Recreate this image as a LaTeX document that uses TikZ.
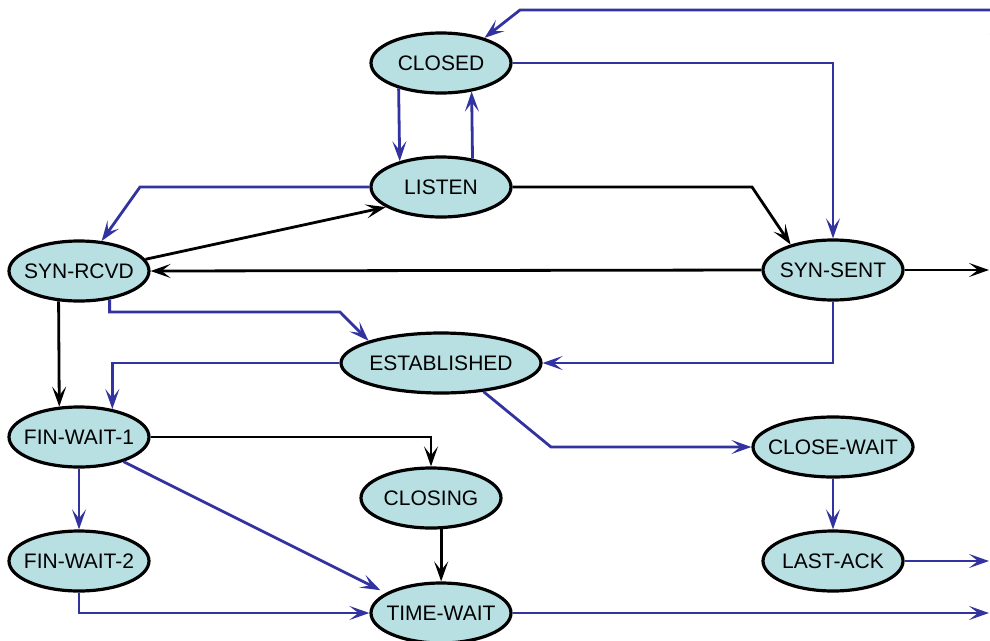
\documentclass[tikz,border=0pt]{standalone}
\usepackage{fontspec}
\setmainfont{Liberation Sans}
\usetikzlibrary{arrows.meta,shapes.geometric}
\definecolor{statefill}{RGB}{184,224,227}
\definecolor{flowblue}{RGB}{51,51,160}
\begin{document}
\begin{tikzpicture}[x=1pt,y=-1pt,
  state/.style={ellipse,draw=black,line width=3.2pt,fill=statefill,
    minimum width=140pt,minimum height=60pt,inner sep=0pt,
    font=\fontsize{21}{24}\selectfont},
  flow/.style={line width=2.8pt,
    -{Stealth[length=20pt,width=14pt,inset=9pt,line width=2.4pt]}},
  okpath/.style={flow,draw=flowblue},
  ctlpath/.style={flow,draw=black}]
\useasboundingbox (0,0) rectangle (990,640);
\clip (0,0) rectangle (990,640);
\fill[white] (0,0) rectangle (990,640);

% TCP states
\node[state] (closed)      at (441,63)  {\makebox[0pt]{CLOSED}};
\node[state] (listen)      at (441,187) {\makebox[0pt]{LISTEN}};
\node[state] (synrcvd)     at (79,271)  {\makebox[0pt]{SYN-RCVD}};
\node[state] (synsent)     at (833,270) {\makebox[0pt]{SYN-SENT}};
\node[state,minimum width=200pt] (established) at (441,363) {\makebox[0pt]{ESTABLISHED}};
\node[state] (finwait1)    at (79,437)  {\makebox[0pt]{FIN-WAIT-1}};
\node[state,minimum width=160pt] (closewait) at (833,447) {\makebox[0pt]{CLOSE-WAIT}};
\node[state] (closing)     at (431,498) {\makebox[0pt]{CLOSING}};
\node[state] (finwait2)    at (79,561)  {\makebox[0pt]{FIN-WAIT-2}};
\node[state] (lastack)     at (833,561) {\makebox[0pt]{LAST-ACK}};
\node[state] (timewait)    at (441,613) {\makebox[0pt]{TIME-WAIT}};

% loose ends running off the right-hand side
\coordinate (topin)    at (1000,10);
\coordinate (exitsyn)  at (989,270);
\coordinate (exitlast) at (989,561);
\coordinate (exittime) at (989,613);
\coordinate (upfoot)   at (997,90);
\coordinate (uphead)   at (997,14);

% transitions
\draw[okpath] (topin) -- (520,10) -- (closed.30);
\draw[okpath] (upfoot) -- (uphead);
\draw[okpath] (closed.east) -| (synsent.north);
\draw[okpath] (closed.211.6) -- (listen.148.4);
\draw[okpath] (listen.42.1) -- (closed.317.9);
\draw[okpath] (listen.west) -- (140,187) -- (synrcvd.53.7);
\draw[ctlpath] (synrcvd.10.8) -- (listen.200.3);
\draw[ctlpath] (listen.east) -- (752,187) -- (synsent.149.4);
\draw[ctlpath] (synsent.west) -- (synrcvd.east);
\draw[ctlpath] (synsent.east) -- (exitsyn);
\draw[okpath] (synrcvd.317.9) |- (340,312) -- (established.163.4);
\draw[okpath] (synsent.south) |- (established.east);
\draw[okpath] (established.west) -| (finwait1.40.9);
\draw[ctlpath] (synrcvd.236.7) -- (finwait1.123.3);
\draw[okpath] (established.326.2) -- (551,447) -- (closewait.west);
\draw[okpath] (closewait.south) -- (lastack.north);
\draw[okpath] (lastack.east) -- (exitlast);
\draw[okpath] (timewait.east) -- (exittime);
\draw[ctlpath] (finwait1.east) -| (closing.north);
\draw[okpath] (finwait1.south) -- (finwait2.north);
\draw[okpath,shorten >=6pt] (finwait1.331.1) -- (timewait.160.6);
\draw[ctlpath] (closing.288.6) -- (closing.288.6 |- timewait.north);
\draw[okpath] (finwait2.south) |- (timewait.west);
\end{tikzpicture}
\end{document}
